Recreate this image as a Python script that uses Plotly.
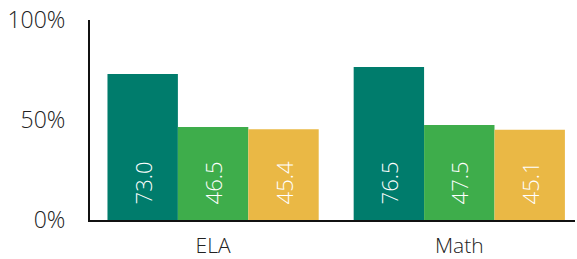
import plotly.graph_objects as go

categories = ["ELA", "Math"]
series_names = ["Series A", "Series B", "Series C"]
series_values = [
    [73.0, 76.5],
    [46.5, 47.5],
    [45.4, 45.1],
]
colors = ["#007C6C", "#3EAD4B", "#EAB845"]
y_ticks = [0, 50, 100]
y_tick_labels = ["0%", "50%", "100%"]

FONT = "Open Sans"
PAD = '<span style="color:rgba(0,0,0,0)">0</span>'

fig = go.Figure()
for name, vals, col in zip(series_names, series_values, colors):
    fig.add_trace(go.Bar(
        x=categories, y=vals, name=name,
        marker=dict(color=col, line=dict(width=0)),
        text=[f"{PAD}{v:.1f}" for v in vals],
        texttemplate="%{text}",
        textposition="inside",
        insidetextanchor="start",
        textangle=-90,
        insidetextfont=dict(color="white", size=22, family=FONT, weight=300),
        hoverinfo="skip",
    ))

fig.update_layout(
    width=577, height=259,
    margin=dict(l=90, r=2, t=20, b=39),
    paper_bgcolor="white", plot_bgcolor="white",
    barmode="group", bargap=0.142, bargroupgap=0,
    showlegend=False,
    font=dict(family=FONT, size=21, color="#222", weight=300),
    uniformtext=dict(mode="show", minsize=22),
)
fig.update_xaxes(
    type="category", range=[-0.5, 1.47], automargin=False,
    showline=True, linecolor="#111", linewidth=2,
    showgrid=False, ticks="", ticklabelstandoff=6,
    tickfont=dict(size=21, color="#222", family=FONT, weight=300),
)
fig.update_yaxes(
    range=[0, 100], tickvals=y_ticks, ticktext=y_tick_labels, automargin=False,
    showline=True, linecolor="#111", linewidth=2, mirror=False,
    showgrid=False, zeroline=False, ticks="", ticklabelstandoff=18,
    tickfont=dict(size=23, color="#222", family=FONT, weight=300),
)

fig.write_html(
    "out.html", config={"displayModeBar": False},
    post_script=("document.body.style.margin='0';"
                 "document.body.style.overflow='hidden';"
                 "document.documentElement.style.overflow='hidden';"),
)
